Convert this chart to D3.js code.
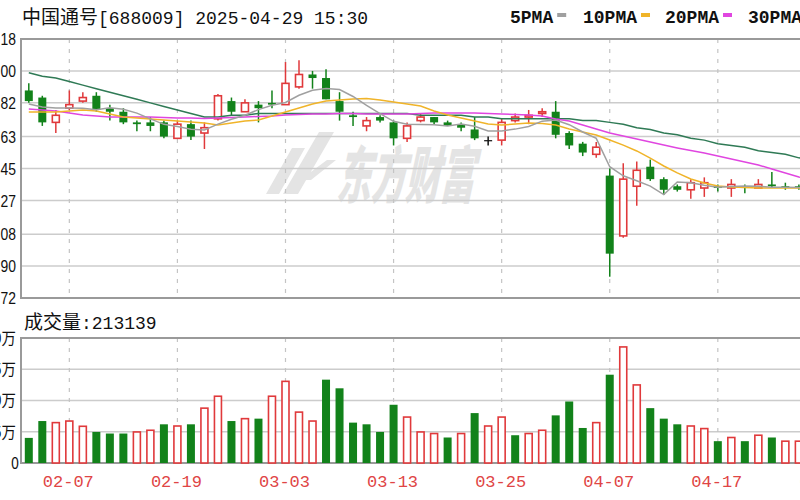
<!DOCTYPE html>
<html><head><meta charset="utf-8">
<script src="https://cdn.jsdelivr.net/npm/d3@7"></script>
<style>html,body{margin:0;padding:0;background:#fff;overflow:hidden}</style>
</head><body>
<svg id="c" width="800" height="500"></svg>
<script>
const dates = ["01-27","02-05","02-06","02-07","02-10","02-11","02-12","02-13","02-14","02-17",
"02-18","02-19","02-20","02-21","02-24","02-25","02-26","02-27","02-28","03-03",
"03-04","03-05","03-06","03-07","03-10","03-11","03-12","03-13","03-14","03-17",
"03-18","03-19","03-20","03-21","03-24","03-25","03-26","03-27","03-28","03-31",
"04-01","04-02","04-03","04-07","04-08","04-09","04-10","04-11","04-14","04-15",
"04-16","04-17","04-18","04-21","04-22","04-23","04-24","04-25","04-28","04-29"];
const open  = [5.89,5.85,5.71,5.79,5.83,5.86,5.79,5.77,5.71,5.71,5.71,5.62,5.70,5.65,5.73,5.83,5.77,5.81,5.82,5.81,
5.91,5.98,5.96,5.83,5.75,5.69,5.74,5.71,5.62,5.72,5.74,5.71,5.70,5.67,5.61,5.61,5.72,5.74,5.76,5.77,
5.65,5.59,5.53,5.41,5.07,5.35,5.46,5.39,5.35,5.33,5.34,5.35,5.34,5.35,5.34,5.36,5.35,5.35,5.34,5.33];
const high  = [5.93,5.86,5.78,5.89,5.88,5.88,5.81,5.79,5.72,5.74,5.72,5.72,5.72,5.71,5.87,5.85,5.84,5.83,5.89,6.05,
6.06,6.00,6.01,5.88,5.77,5.74,5.75,5.72,5.71,5.76,5.74,5.72,5.71,5.74,5.63,5.73,5.76,5.78,5.79,5.83,
5.66,5.60,5.60,5.45,5.48,5.49,5.50,5.40,5.36,5.39,5.40,5.36,5.39,5.36,5.39,5.43,5.37,5.36,5.36,5.36];
const low   = [5.82,5.69,5.65,5.78,5.82,5.77,5.72,5.70,5.66,5.66,5.62,5.62,5.61,5.56,5.72,5.75,5.77,5.71,5.79,5.81,
5.90,5.90,5.84,5.72,5.69,5.66,5.71,5.58,5.60,5.71,5.70,5.69,5.66,5.61,5.58,5.58,5.71,5.70,5.74,5.62,
5.56,5.52,5.51,4.84,5.06,5.24,5.38,5.30,5.32,5.28,5.29,5.32,5.29,5.31,5.34,5.34,5.33,5.33,5.31,5.32];
const close = [5.83,5.71,5.75,5.81,5.85,5.78,5.77,5.71,5.70,5.69,5.63,5.70,5.63,5.68,5.86,5.77,5.82,5.79,5.81,5.93,
5.98,5.96,5.84,5.77,5.74,5.72,5.72,5.62,5.69,5.74,5.71,5.69,5.68,5.62,5.61,5.71,5.74,5.75,5.77,5.64,
5.58,5.54,5.57,4.97,5.39,5.44,5.39,5.33,5.33,5.37,5.37,5.34,5.36,5.34,5.36,5.35,5.34,5.34,5.33,5.34];
const volume = [200800,335700,323000,335700,293700,248400,235700,235700,248400,261900,
309500,296000,309500,438900,534100,335700,354800,354800,534100,653200,
407100,335700,666700,597600,323000,309500,248400,465900,367500,248400,
235700,204000,235700,399200,296000,367500,222200,235700,261900,381000,
492100,280200,323000,706300,928600,624600,438900,354800,309500,296000,
275400,174600,204000,174600,222200,204000,174600,174600,190000,213139];
const volUp = [0,0,1,1,1,0,0,0,1,1, 0,1,0,1,1,0,1,0,1,1, 1,1,0,0,0,0,0,0,1,1,
1,0,1,0,1,1,0,1,1,0, 0,0,1,0,1,1,0,0,0,1, 1,0,1,0,1,0,1,1,0,1];
const ma5  = [5.814,5.797,5.791,5.791,5.790,5.781,5.793,5.784,5.762,5.730,5.699,5.687,5.671,5.667,5.700,5.728,5.750,5.782,5.806,5.822,
5.863,5.891,5.901,5.895,5.856,5.806,5.759,5.716,5.699,5.698,5.696,5.690,5.701,5.688,5.662,5.662,5.672,5.687,5.717,5.723,
5.697,5.656,5.620,5.460,5.409,5.381,5.351,5.303,5.374,5.370,5.356,5.345,5.348,5.352,5.350,5.345,5.344,5.343,5.343,5.340];
const ma10 = [5.768,5.768,5.768,5.774,5.780,5.774,5.757,5.740,5.735,5.729,5.723,5.718,5.712,5.706,5.695,5.706,5.718,5.723,5.746,5.768,
5.791,5.814,5.830,5.836,5.842,5.845,5.836,5.825,5.814,5.802,5.774,5.752,5.735,5.718,5.701,5.695,5.701,5.706,5.704,5.695,
5.673,5.656,5.639,5.611,5.582,5.549,5.509,5.464,5.425,5.391,5.368,5.351,5.346,5.343,5.340,5.340,5.340,5.340,5.340,5.340];
const ma20 = [5.785,5.780,5.774,5.763,5.752,5.746,5.740,5.740,5.740,5.740,5.737,5.735,5.735,5.732,5.735,5.737,5.740,5.743,5.746,5.752,
5.754,5.757,5.757,5.760,5.760,5.757,5.757,5.757,5.757,5.760,5.763,5.763,5.763,5.763,5.760,5.757,5.754,5.752,5.746,5.729,
5.718,5.695,5.673,5.650,5.633,5.616,5.599,5.582,5.566,5.551,5.537,5.520,5.503,5.487,5.470,5.447,5.425,5.402,5.385,5.368];
const ma30 = [5.99,5.97,5.96,5.94,5.92,5.90,5.88,5.86,5.84,5.82,5.80,5.78,5.76,5.74,5.74,5.75,5.75,5.76,5.76,5.76,
5.76,5.76,5.76,5.76,5.76,5.76,5.76,5.76,5.76,5.75,5.75,5.75,5.75,5.74,5.74,5.73,5.73,5.73,5.73,5.73,
5.73,5.72,5.72,5.71,5.70,5.68,5.67,5.65,5.64,5.62,5.61,5.59,5.58,5.57,5.55,5.54,5.53,5.51,5.50,5.49];
const priceTicks = [6.18,6.00,5.82,5.63,5.45,5.27,5.08,4.90,4.72];
const volTicks = [0,250000,500000,750000,1000000];
const volTickLabels = ["0","25万","50万","75万","100万"];
const dateTicks = ["02-07","02-19","03-03","03-13","03-25","04-07","04-17","04-29"];
const titleName = "中国通号";
const titleRest = "[688009] 2025-04-29 15:30";
const volTitleName = "成交量";
const volTitleRest = ":213139";
const legendNames = ["5PMA","10PMA","20PMA","30PMA"];
const watermark = "东方财富";

const RED = "#e0393b", GREEN = "#12821a";
const maColors = ["#a0a0a0","#f0b429","#e046e0","#2f7a55"];
const MONO = "'Liberation Mono', monospace";
const CJK = "'Noto Sans CJK SC', sans-serif";

const svg = d3.select("#c");
const L = 21, R = 836;
const x = d3.scalePoint().domain(dates).range([28.8, 825.9]);
const y = d3.scaleLinear().domain([4.72, 6.18]).range([298, 39]);
const yv = d3.scaleLinear().domain([0, 1000000]).range([463, 338]);

// watermark
const wm = svg.append("g").attr("fill", "#e4e4e4");
wm.append("path").attr("d", "M266,194 L292,148 L305,148 L279,194 Z M283,194 L319,132 L334,132 L298,194 Z M300,180 L327,160 L336,160 L311,180 Z");
wm.append("text").attr("transform", "translate(336,198) skewX(-12) scale(0.86,1.55)")
  .attr("font-family", CJK).attr("font-weight", 900).attr("font-size", 40)
  .text(watermark);

// frames & grids
function panel(top, bottom, gridYs) {
  const g = svg.append("g");
  gridYs.forEach(gy => g.append("line").attr("x1", L).attr("x2", R).attr("y1", gy).attr("y2", gy)
    .attr("stroke", "#cccccc").attr("stroke-width", 1.5));
  dateTicks.forEach(d => g.append("line").attr("x1", x(d)).attr("x2", x(d)).attr("y1", top).attr("y2", bottom)
    .attr("stroke", "#c4c4c4").attr("stroke-width", 1.2).attr("stroke-dasharray", "4,6"));
  g.append("rect").attr("x", L).attr("y", top).attr("width", R - L).attr("height", bottom - top)
    .attr("fill", "none").attr("stroke", "#9a9a9a").attr("stroke-width", 2);
}
panel(39, 298, priceTicks.slice(1, -1).map(v => y(v)));
panel(338, 463, volTicks.slice(1, -1).map(v => yv(v)));

// y labels
priceTicks.forEach(v => {
  svg.append("text").attr("transform", `translate(16,${y(v)}) scale(0.82,1)`)
    .attr("text-anchor", "end").attr("dy", "0.36em")
    .attr("font-family", "'Liberation Sans', sans-serif").attr("font-size", 17).attr("fill", "#111")
    .text(v.toFixed(2));
});
volTicks.forEach((v, i) => {
  svg.append("text").attr("transform", `translate(${i === 0 ? 19 : 16},${yv(v)}) scale(0.9,1)`)
    .attr("text-anchor", "end").attr("dy", "0.36em")
    .attr("font-family", CJK).attr("font-size", 16).attr("fill", "#111")
    .text(volTickLabels[i]);
});
// date labels
dateTicks.forEach(d => {
  svg.append("text").attr("x", x(d) - 1).attr("y", 487).attr("text-anchor", "middle")
    .attr("font-family", MONO).attr("font-size", 17).attr("fill", "#e04545").text(d);
});

// candles
const cg = svg.append("g");
dates.forEach((d, i) => {
  const cx = x(d), o = open[i], c = close[i];
  const col = c > o ? RED : (c < o ? GREEN : "#111");
  cg.append("line").attr("x1", cx).attr("x2", cx).attr("y1", y(high[i])).attr("y2", y(low[i]))
    .attr("stroke", col).attr("stroke-width", 1.5);
  const top = y(Math.max(o, c)), h = Math.max(1.2, Math.abs(y(o) - y(c)));
  if (c > o) {
    cg.append("rect").attr("x", cx - 3.5).attr("y", top).attr("width", 7).attr("height", h)
      .attr("fill", "#fff").attr("stroke", col).attr("stroke-width", 1.6);
  } else {
    cg.append("rect").attr("x", cx - 4).attr("y", top).attr("width", 8).attr("height", h)
      .attr("fill", col);
  }
});

// MA lines
const line = d3.line().x((v, i) => x(dates[i])).y(v => y(v));
[ma30, ma20, ma10, ma5].forEach((arr, k) => {
  svg.append("path").attr("d", line(arr)).attr("fill", "none")
    .attr("stroke", maColors[3 - k]).attr("stroke-width", 1.5);
});

// volume bars
dates.forEach((d, i) => {
  const cx = x(d), t = yv(volume[i]);
  if (volUp[i]) {
    svg.append("rect").attr("x", cx - 3.5).attr("y", t).attr("width", 7).attr("height", yv(0) - t)
      .attr("fill", "#fff").attr("stroke", RED).attr("stroke-width", 1.6);
  } else {
    svg.append("rect").attr("x", cx - 4).attr("y", t).attr("width", 8).attr("height", yv(0) - t)
      .attr("fill", GREEN);
  }
});

// titles
const t1 = svg.append("text").attr("x", 22).attr("y", 24).attr("fill", "#111");
t1.append("tspan").attr("font-family", CJK).attr("font-size", 19).text(titleName);
t1.append("tspan").attr("font-family", MONO).attr("font-size", 18).text(titleRest);
const t2 = svg.append("text").attr("x", 24).attr("y", 329).attr("fill", "#111");
t2.append("tspan").attr("font-family", CJK).attr("font-size", 19).text(volTitleName);
t2.append("tspan").attr("font-family", MONO).attr("font-size", 18).text(volTitleRest);

// legend
const legX = [510, 583, 665, 748];
legendNames.forEach((n, i) => {
  svg.append("text").attr("x", legX[i]).attr("y", 23).attr("font-family", MONO)
    .attr("font-size", 18).attr("font-weight", "bold").attr("fill", "#111").text(n);
  const w = n.length * 10.8;
  svg.append("rect").attr("x", legX[i] + w + 4).attr("y", 13).attr("width", 9).attr("height", 4)
    .attr("fill", maColors[i]);
});
</script>
</body></html>
